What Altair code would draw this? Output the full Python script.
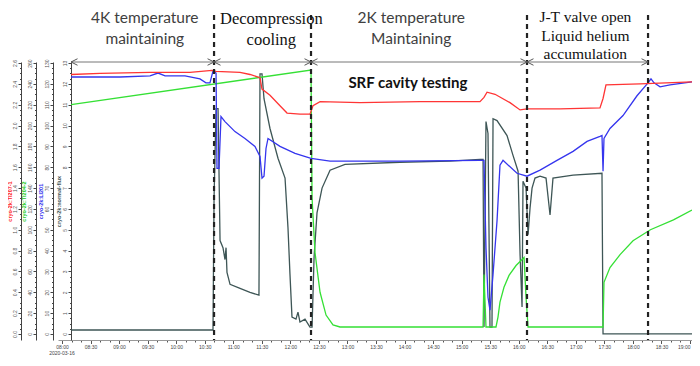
import altair as alt
import pandas as pd

DATE = "2020-03-16"

# ---- series data (time of day, value in the unit of its own axis) ----
red_t = ["08:09:30", "08:40:00", "09:32:30", "10:14:30", "10:37:42", "10:41:54", "11:07:06", "11:17:36",
         "11:28:06", "11:30:12", "11:38:36", "11:49:06", "11:56:30", "12:10:06", "12:20:36", "12:23:48",
         "12:31:12", "13:13:12", "14:16:18", "15:19:18", "15:23:30", "15:26:42", "15:35:06", "15:50:48",
         "16:01:24", "16:08:42", "16:43:24", "17:25:24", "17:28:36", "17:31:42", "18:07:30", "19:02:06"]
red_v = [2.49, 2.50, 2.51, 2.51, 2.53, 2.52, 2.51, 2.49, 2.46, 2.35, 2.29, 2.19, 2.12, 2.11, 2.11, 2.19,
         2.23, 2.22, 2.23, 2.23, 2.27, 2.32, 2.30, 2.22, 2.15, 2.16, 2.16, 2.17, 2.26, 2.39, 2.40, 2.42]

green_t = ["08:09:30", "12:21:42", "12:22:48", "12:25:54", "12:31:12", "12:37:30", "12:44:48", "12:52:12",
           "15:22:30", "15:23:30", "15:25:36", "15:36:06", "15:38:12", "15:40:18", "15:44:30", "15:49:48",
           "15:57:12", "16:03:30", "16:05:36", "16:07:42", "16:09:48", "17:28:36", "17:29:36", "17:35:54",
           "17:46:30", "18:00:06", "18:18:24", "18:42:36", "19:02:06"]
green_v = [220.0, 253.3, 130.5, 78.1, 40.0, 18.1, 8.6, 6.7, 6.7, 57.1, 6.7, 6.7, 16.2, 30.5, 44.8, 56.2,
           65.7, 71.4, 73.3, 35.2, 6.7, 6.7, 49.5, 63.8, 76.2, 89.5, 100.0, 109.5, 119.0]

blue_t = ["08:09:30", "09:01:00", "09:32:30", "09:40:54", "09:48:18", "10:09:18", "10:25:00", "10:31:18",
          "10:35:30", "10:38:42", "10:41:54", "10:42:54", "10:45:00", "10:47:06", "10:51:18", "11:01:48",
          "11:12:18", "11:22:48", "11:28:06", "11:30:12", "11:32:18", "11:34:24", "11:36:30", "11:49:06",
          "12:04:54", "12:21:42", "12:41:42", "13:55:12", "15:19:18", "15:23:30", "15:25:36", "15:27:42",
          "15:29:48", "15:33:00", "15:37:12", "15:40:18", "15:43:30", "15:58:12", "16:08:42", "16:22:24",
          "16:40:12", "16:57:06", "17:11:48", "17:25:24", "17:27:30", "17:28:36", "17:29:36", "17:35:54",
          "17:49:36", "18:04:18", "18:15:54", "18:19:00", "18:22:12", "18:28:30", "18:39:00", "19:02:06"]
blue_v = [123.3, 123.3, 123.8, 125.2, 123.8, 123.8, 122.4, 120.5, 120.5, 126.2, 125.2, 79.5, 79.5, 104.3,
          101.9, 97.1, 93.8, 90.0, 85.2, 74.8, 75.7, 89.0, 93.8, 90.0, 86.7, 84.3, 82.9, 82.9, 83.3, 83.3,
          41.4, 17.6, 11.4, 28.6, 54.3, 81.0, 83.3, 77.1, 75.7, 78.6, 83.3, 87.6, 92.4, 94.8, 95.2, 78.1,
          93.8, 98.6, 104.8, 114.3, 120.5, 122.4, 120.5, 118.6, 119.5, 121.0]

gray_t = ["08:09:30", "10:38:42", "10:39:48", "10:41:54", "10:44:00", "10:46:06", "10:49:12", "10:51:18",
          "10:52:24", "10:53:24", "10:56:36", "11:07:06", "11:17:36", "11:27:00", "11:28:06", "11:30:12",
          "11:32:18", "11:38:36", "11:47:00", "11:54:24", "11:57:30", "11:59:36", "12:01:42", "12:05:54",
          "12:08:00", "12:10:06", "12:15:24", "12:20:36", "12:22:48", "12:24:54", "12:28:00", "12:33:18",
          "12:41:42", "12:57:24", "13:55:12", "14:47:48", "15:19:18", "15:22:30", "15:23:30", "15:25:36",
          "15:27:42", "15:29:48", "15:31:54", "15:33:00", "15:37:12", "15:47:42", "15:54:00", "15:59:18",
          "16:01:24", "16:03:30", "16:04:30", "16:07:42", "16:09:48", "16:11:54", "16:14:00", "16:17:06",
          "16:22:24", "16:28:42", "16:32:54", "16:36:00", "16:57:06", "17:27:30", "17:28:36", "19:02:06"]
gray_v = [0.19, 0.19, 6.52, 10.81, 10.81, 4.48, 4.14, 3.57, 4.14, 2.95, 2.38, 2.19, 2.00, 1.86, 12.48,
          12.48, 11.29, 9.86, 8.43, 7.48, 5.10, 2.86, 0.81, 0.71, 1.05, 0.57, 0.71, 0.33, 0.33, 3.67, 5.81,
          7.00, 7.86, 8.14, 8.24, 8.29, 8.38, 8.38, 0.33, 10.19, 9.62, 0.33, 0.33, 10.33, 10.24, 9.52, 8.57,
          7.81, 3.81, 1.29, 7.33, 7.00, 4.76, 6.05, 7.00, 7.48, 7.57, 7.48, 5.71, 7.48, 7.62, 7.71, 0.00, 0.00]

# phase boundaries (dashed lines) and annotation texts
bounds_t = ["10:39:48", "12:21:42", "16:08:42", "18:15:54"]
arrow_start = "08:09:30"
phase_4k = ("09:27:00", "4K temperature\nmaintaining")
phase_dec = ("11:40:00", "Decompression\ncooling")
phase_2k = ("14:07:00", "2K temperature\nMaintaining")
phase_jt = ("17:10:00", "J-T valve  open\nLiquid helium\naccumulation")
srf = ("14:03:30", "SRF cavity testing")

axis_titles = ["cryo-2k:TI207-1", "cryo-2k:TI204-2", "cryo-2k:LI201", "cryo-2k:normal-flux"]


def ts(s):
    return pd.Timestamp(f"{DATE} {s}")


def frame(times, values):
    return pd.DataFrame({"t": [ts(s) for s in times], "v": values, "i": list(range(len(times)))})


def dt(h, m, s=0):
    return alt.DateTime(year=2020, month=3, date=16, hours=h, minutes=m, seconds=s)


x_ticks = [dt(8 + k // 6, (k % 6) * 10) for k in range(67)]
X = alt.X(
    "t:T", title=None,
    scale=alt.Scale(domain=[dt(7, 55, 48), dt(19, 2, 6)]),
    axis=alt.Axis(
        values=x_ticks,
        labelExpr="minutes(datum.value) % 30 == 0 ? timeFormat(datum.value, '%H:%M') : ''",
        tickSize={"condition": {"test": "minutes(datum.value) % 30 == 0", "value": 3.5}, "value": 2},
        labelFontSize=5, labelColor="#444", labelPadding=1, labelOverlap=False, labelFlush=3,
        domainColor="#999", tickColor="#555", grid=False,
    ),
)


def yaxis(title, color, offset, lo, hi, minor, major, fmt, tpad=1):
    n = int(round((hi - lo) / minor))
    vals = [round(lo + k * minor, 4) for k in range(n + 1)]
    test = f"abs(datum.value/{major} - round(datum.value/{major})) < 0.001"
    return alt.Axis(
        orient="left", offset=offset, values=vals, title=title, titleColor=color,
        titleFontSize=5.5, titleFontWeight="bold", titleFont="Liberation Sans", titlePadding=tpad,
        labelExpr=f"{test} ? format(datum.value, '{fmt}') : ''",
        labelAngle=270, labelAlign="center", labelBaseline="bottom", labelFontSize=5,
        labelColor="#555", labelPadding=1, labelOverlap=False,
        tickSize={"condition": {"test": test, "value": 3}, "value": 1.5},
        tickColor="#444", domainColor="#444", grid=False,
    )


def series(times, values, color, axis, domain):
    return alt.Chart(frame(times, values)).mark_line(color=color, strokeWidth=1.3, clip=True).encode(
        x=X,
        y=alt.Y("v:Q", scale=alt.Scale(domain=domain, nice=False, zero=False), axis=axis),
        order="i:Q",
    )


gray = series(gray_t, gray_v, "#3e5656",
              yaxis(axis_titles[3], "#3e5656", -13, 0, 13, 0.25, 1, ".0f"), [-0.29, 13.05])
green = series(green_t, green_v, "#35e035",
               yaxis(axis_titles[1], "#22cc22", 22, 0, 260, 5, 20, ".0f"), [-5.8, 261])
blue = series(blue_t, blue_v, "#3535ee",
              yaxis(axis_titles[2], "#3030ee", 5, 0, 130, 2.5, 10, ".0f"), [-2.9, 130.5])
red = series(red_t, red_v, "#ff3535",
             yaxis(axis_titles[0], "#ff2020", 37, 0, 2.6, 0.05, 0.2, ".1f", 0), [-0.058, 2.61])

dashes = alt.Chart(pd.DataFrame({"t": [ts(s) for s in bounds_t]})).mark_rule(
    color="#222", strokeWidth=2.2, strokeDash=[5, 4]
).encode(x=X, y=alt.value(-47), y2=alt.value(278))

arrow_line = alt.Chart(pd.DataFrame({"t": [ts(arrow_start)], "t2": [ts(bounds_t[-1])]})).mark_rule(
    color="#777", strokeWidth=1
).encode(x=X, x2="t2:T", y=alt.value(0))

left_heads = alt.Chart(pd.DataFrame({"t": [ts(s) for s in [arrow_start] + bounds_t[:-1]]})).mark_point(
    shape="M2,-1L0,0L2,1", filled=False, size=42, color="#555", strokeWidth=1, opacity=1
).encode(x=X, y=alt.value(0))
right_heads = alt.Chart(pd.DataFrame({"t": [ts(s) for s in bounds_t]})).mark_point(
    shape="M-2,-1L0,0L-2,1", filled=False, size=42, color="#555", strokeWidth=1, opacity=1
).encode(x=X, y=alt.value(0))


def label(item, y, font, size, color, lh, weight="normal"):
    t, s = item
    return alt.Chart(pd.DataFrame({"t": [ts(t)], "s": [s]})).mark_text(
        font=font, fontSize=size, color=color, lineBreak="\n", lineHeight=lh,
        baseline="top", align="center", fontWeight=weight
    ).encode(x=X, y=alt.value(y), text="s:N")


t4k = label(phase_4k, -51, "Lato", 15.5, "#404040", 21)
tdec = label(phase_dec, -51, "Liberation Serif", 16.5, "#111", 21)
t2k = label(phase_2k, -51, "Lato", 15.5, "#404040", 21)
tjt = label(phase_jt, -52, "Liberation Serif", 15.5, "#111", 18.5)
tsrf = label(srf, 14, "Lato", 15, "#111", 18, "bold")

date_txt = alt.Chart(pd.DataFrame({"t": [ts("08:00:00")], "s": [DATE]})).mark_text(
    fontSize=5, color="#444", baseline="top", align="center"
).encode(x=X, y=alt.value(289), text="s:N")

chart = alt.layer(
    gray, green, blue, red, dashes, arrow_line, left_heads, right_heads,
    t4k, tdec, t2k, tjt, tsrf, date_txt
).resolve_scale(y="independent").properties(
    width=634, height=278,
    padding={"left": 50, "top": 54, "right": 0, "bottom": 18},
    autosize=alt.AutoSizeParams(type="none"),
    background="white",
).configure_view(stroke=None)

chart.save("out.html", embed_options={"renderer": "svg", "actions": False})
